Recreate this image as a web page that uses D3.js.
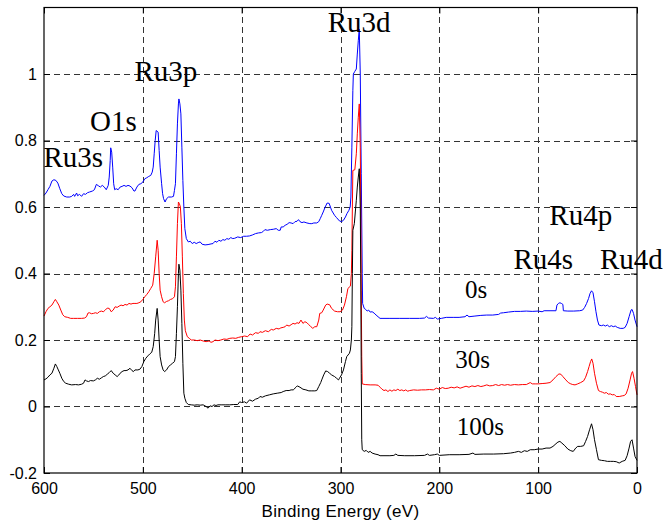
<!DOCTYPE html>
<html>
<head>
<meta charset="utf-8">
<script src="https://cdn.jsdelivr.net/npm/d3@7"></script>
<style>
  html, body { margin: 0; padding: 0; background: #fff; }
  svg { display: block; }
</style>
</head>
<body>
<svg id="chart" width="671" height="527"></svg>
<script>
// XPS survey spectra after 0 s, 30 s and 100 s of sputtering: [binding energy (eV), intensity]
const spectrum0s = [
  [600,0.635],[598,0.642],[596,0.652],[594,0.662],[592,0.678],[590,0.682],[588,0.68],[586,0.672],[584,0.655],[582,0.64],
  [580,0.633],[577,0.63],[574,0.63],[572,0.632],[570,0.638],[569,0.632],[567,0.642],[566,0.634],[564,0.638],[562,0.632],
  [560,0.64],[558,0.638],[556,0.643],[554,0.645],[551,0.648],[549,0.652],[547,0.668],[545,0.664],[543,0.66],[541,0.665],
  [539,0.66],[537,0.652],[535,0.665],[534,0.69],[533,0.74],[532.5,0.778],[531.5,0.765],[530.5,0.72],[529.5,0.67],[528.5,0.652],
  [527,0.655],[525,0.652],[523,0.66],[521,0.662],[519,0.665],[517,0.662],[515,0.665],[513,0.663],[511,0.658],[509,0.648],
  [508,0.648],[506,0.66],[504,0.668],[502,0.67],[500,0.675],[498,0.685],[496,0.688],[494,0.692],[492,0.695],[490.5,0.705],
  [489.5,0.72],[488.5,0.76],[487.5,0.8],[486.5,0.83],[484.5,0.825],[483.5,0.77],[482.5,0.72],[481,0.67],[480,0.64],[479,0.625],
  [477.5,0.615],[476,0.625],[474,0.63],[471,0.63],[469,0.632],[468,0.65],[467,0.67],[466,0.76],[465,0.85],[464,0.91],
  [463.5,0.925],[462.5,0.91],[461.5,0.88],[460.5,0.78],[459.5,0.68],[458.5,0.6],[457.5,0.535],[456,0.505],[454,0.495],[452,0.497],
  [450,0.49],[448,0.494],[446,0.49],[444,0.493],[442,0.495],[440,0.488],[437,0.486],[434,0.487],[431,0.489],[429,0.49],
  [427,0.497],[425,0.494],[423,0.5],[421,0.497],[419,0.502],[417,0.5],[415,0.505],[413,0.503],[411,0.508],[409,0.505],
  [407,0.506],[404,0.51],[401,0.508],[398,0.512],[395,0.512],[392,0.513],[389,0.516],[386,0.52],[383,0.522],[380,0.523],
  [378,0.527],[376.5,0.532],[374,0.53],[371,0.532],[368,0.533],[365,0.535],[363,0.53],[361,0.53],[360,0.54],[358,0.54],
  [356,0.545],[354,0.548],[352,0.553],[350,0.552],[348,0.55],[346,0.556],[344,0.557],[342.5,0.562],[341,0.556],[339,0.553],
  [337,0.555],[334,0.552],[331,0.55],[329,0.55],[327,0.552],[324,0.552],[322,0.556],[320.5,0.565],[319,0.575],[317.5,0.585],
  [315.5,0.6],[313.5,0.612],[311.5,0.611],[309,0.59],[306,0.575],[304,0.568],[301,0.558],[299,0.556],[297,0.56],[295,0.57],
  [293.5,0.58],[291.5,0.59],[290.2,0.6],[289.5,0.63],[288.5,0.78],[287.5,0.95],[287,1.0],[285.5,1.008],[284,1.015],[283,1.06],
  [282,1.1],[281,1.135],[280,1.0],[279,0.7],[278,0.4],[277.6,0.31],[276,0.295],[274.5,0.292],[273,0.287],[271.5,0.29],
  [270,0.284],[268,0.285],[266,0.281],[264,0.275],[262,0.27],[260,0.265],[257,0.265],[250,0.265],[240,0.265],[230,0.265],
  [220,0.265],[215,0.266],[213,0.271],[211,0.266],[206,0.265],[204,0.268],[202,0.263],[198,0.265],[193,0.268],[186,0.268],
  [180,0.268],[174,0.27],[172,0.275],[170,0.27],[164,0.272],[158,0.274],[152,0.275],[146,0.275],[140,0.277],[138,0.281],
  [135,0.282],[130,0.284],[124,0.286],[118,0.286],[112,0.287],[106,0.286],[100,0.287],[96,0.285],[94,0.288],[88,0.288],
  [82,0.288],[81,0.305],[79.5,0.31],[78,0.312],[76.5,0.31],[75,0.307],[74.5,0.288],[70,0.287],[64,0.287],[58,0.288],
  [55,0.29],[53,0.298],[51,0.31],[49,0.325],[47.5,0.34],[46,0.348],[44.5,0.342],[43,0.315],[41.5,0.285],[40,0.26],
  [38.5,0.245],[36,0.243],[34,0.245],[32,0.242],[30,0.245],[28,0.24],[26,0.243],[24,0.24],[22,0.242],[20,0.238],
  [17,0.235],[14,0.235],[12,0.238],[10,0.25],[8,0.27],[6,0.29],[5,0.292],[3.5,0.28],[2,0.26],[0,0.24]
];

const spectrum30s = [
  [600,0.272],[598,0.285],[596,0.295],[594,0.3],[592,0.305],[590,0.315],[588.5,0.322],[587,0.315],[585,0.305],[583,0.29],
  [581,0.276],[579,0.27],[576,0.268],[573,0.265],[570,0.265],[566,0.265],[562,0.265],[559,0.266],[557,0.27],[555.5,0.281],
  [554,0.282],[552,0.279],[550,0.28],[548,0.282],[546,0.28],[544,0.285],[542,0.287],[540,0.285],[538,0.29],[536,0.296],
  [534,0.295],[532,0.285],[530,0.29],[528,0.3],[526,0.298],[524,0.302],[522,0.305],[520,0.303],[518,0.307],[516,0.305],
  [514,0.31],[512,0.308],[510,0.31],[508,0.31],[506,0.31],[504,0.312],[502,0.315],[500,0.322],[498,0.33],[496,0.337],
  [494,0.345],[492,0.355],[490,0.365],[488.5,0.4],[487,0.45],[485.5,0.5],[484.5,0.47],[483.5,0.4],[482.5,0.35],[481,0.33],
  [479.5,0.315],[478,0.312],[476,0.316],[474,0.318],[472,0.322],[470,0.324],[468,0.33],[467,0.36],[466,0.45],[465,0.55],
  [464,0.615],[463,0.61],[462,0.6],[461,0.55],[460,0.45],[459,0.34],[458,0.26],[457,0.228],[455,0.21],[453,0.205],
  [451,0.2],[448,0.2],[445,0.198],[442,0.2],[439,0.197],[436,0.195],[433,0.197],[431,0.193],[429,0.195],[427,0.2],
  [424,0.198],[421,0.2],[418,0.203],[415,0.202],[412,0.205],[409,0.206],[406,0.205],[403,0.208],[400,0.21],[397,0.212],
  [394,0.21],[391.5,0.218],[389,0.215],[386,0.222],[383,0.22],[381.5,0.225],[379,0.223],[376,0.228],[373,0.225],[370,0.232],
  [368,0.23],[365,0.235],[362,0.233],[361,0.236],[358,0.238],[356,0.24],[354.5,0.245],[352,0.242],[350,0.246],[348,0.25],
  [346,0.248],[344,0.252],[342,0.25],[340,0.26],[338,0.25],[336,0.255],[334,0.252],[332,0.246],[330,0.24],[328,0.235],
  [326,0.24],[324,0.24],[322,0.26],[321,0.28],[319,0.282],[317.5,0.29],[315,0.305],[313.5,0.308],[311,0.306],[309,0.295],
  [306,0.287],[303,0.285],[300.5,0.285],[298,0.29],[296,0.305],[294,0.33],[292.5,0.355],[290,0.362],[289,0.4],[288.5,0.47],
  [288,0.6],[287.5,0.71],[285.5,0.712],[284,0.76],[283,0.82],[282,0.87],[281,0.91],[280,0.78],[279.5,0.6],[279,0.35],
  [278.5,0.15],[278,0.068],[275,0.066],[270,0.065],[265,0.065],[262,0.064],[260,0.058],[258,0.052],[256,0.048],[254,0.05],
  [252,0.045],[250,0.05],[248,0.046],[246,0.05],[244,0.048],[242,0.052],[240,0.048],[238,0.05],[236,0.047],[234,0.05],
  [232,0.046],[230,0.048],[226,0.05],[222,0.049],[218,0.05],[214,0.05],[210,0.051],[206,0.05],[203,0.055],[200,0.052],
  [197,0.057],[194,0.054],[191,0.055],[188,0.058],[185,0.056],[182,0.059],[179,0.055],[176,0.058],[173,0.061],[170,0.058],
  [167,0.062],[164,0.06],[161,0.063],[158,0.06],[155,0.062],[152,0.065],[149,0.062],[146,0.063],[143,0.066],[140,0.063],
  [137,0.066],[134,0.064],[131,0.066],[128,0.064],[124,0.066],[120,0.065],[116,0.066],[112,0.066],[108,0.072],[106,0.068],
  [103,0.068],[100,0.068],[96,0.069],[92,0.07],[88,0.072],[85,0.08],[82,0.09],[79,0.098],[77,0.097],[75,0.09],
  [72,0.08],[69.5,0.072],[67,0.068],[65,0.066],[62.7,0.065],[60,0.068],[57,0.072],[54,0.077],[52,0.088],[50,0.105],
  [48.5,0.12],[47,0.135],[45.8,0.143],[44.5,0.13],[43,0.1],[41,0.07],[39,0.048],[37,0.045],[35,0.043],[33,0.04],
  [31,0.042],[29,0.037],[27,0.038],[25,0.035],[23,0.036],[21,0.03],[18,0.03],[15,0.032],[13,0.033],[11,0.038],
  [9,0.055],[7,0.08],[5.5,0.1],[4.5,0.105],[3,0.085],[1.5,0.06],[0,0.035]
];

const spectrum100s = [
  [600,0.08],[598,0.083],[596,0.088],[594,0.095],[592,0.1],[590,0.115],[588.5,0.128],[587,0.12],[585.5,0.11],[584,0.1],
  [582,0.085],[580,0.075],[578,0.07],[575,0.067],[572,0.065],[568,0.066],[565,0.065],[562,0.067],[560,0.07],[558.5,0.08],
  [557,0.077],[555,0.075],[553,0.078],[550,0.077],[548,0.08],[546,0.085],[544,0.082],[542,0.086],[540,0.09],[538,0.092],
  [536,0.097],[534,0.102],[532,0.108],[530,0.1],[528,0.095],[526,0.09],[524.5,0.094],[523,0.1],[521,0.105],[519,0.108],
  [517,0.108],[515,0.11],[513,0.115],[511,0.108],[509.5,0.105],[508,0.11],[505,0.11],[503,0.112],[501,0.12],[499,0.135],
  [497,0.145],[495,0.152],[493,0.158],[491,0.163],[489.5,0.18],[488,0.22],[487,0.26],[485.5,0.295],[484.5,0.26],[483.5,0.2],
  [482.5,0.15],[481,0.125],[479.5,0.11],[478,0.105],[476,0.11],[474,0.12],[472,0.125],[470,0.13],[468,0.135],[467,0.15],
  [466,0.22],[465,0.3],[464,0.4],[463.5,0.428],[462.5,0.41],[461.5,0.35],[460.5,0.25],[459.5,0.13],[458.5,0.04],[457.5,0.025],
  [456,0.012],[454,0.006],[451,0.005],[448,0.004],[445,0.005],[442,0.004],[439,0.005],[436,0.0],[434,-0.005],[432,0.002],
  [430,0.0],[428,0.005],[426,0.003],[424,0.005],[420,0.005],[416,0.005],[412,0.005],[408,0.006],[404,0.006],[402,0.014],
  [400,0.012],[397,0.014],[395,0.01],[392,0.02],[389,0.016],[386,0.022],[383,0.025],[381.5,0.03],[379,0.028],[376,0.032],
  [372,0.035],[368,0.038],[364,0.04],[360,0.042],[358,0.045],[355,0.048],[352,0.048],[350,0.05],[347.8,0.05],[345,0.058],
  [343.7,0.062],[341,0.058],[338,0.052],[335,0.05],[332,0.047],[329,0.047],[326,0.047],[324,0.048],[322,0.06],[320,0.072],
  [319,0.08],[317,0.095],[315,0.107],[313,0.105],[311,0.1],[309,0.095],[306,0.09],[304,0.085],[302,0.08],[301,0.085],
  [299,0.095],[297,0.11],[295,0.135],[293.7,0.15],[291,0.16],[290,0.17],[289,0.2],[288.5,0.24],[288,0.4],[287.5,0.53],
  [286,0.55],[285,0.585],[284,0.62],[283,0.66],[282,0.69],[281,0.715],[280,0.6],[279.5,0.4],[279,0.1],[278.5,-0.1],
  [278,-0.13],[276,-0.135],[274,-0.132],[272,-0.138],[270,-0.135],[268,-0.14],[265,-0.143],[262,-0.145],[260,-0.148],[250,-0.148],
  [246,-0.147],[244,-0.143],[242,-0.147],[235,-0.148],[225,-0.148],[215,-0.147],[212,-0.143],[210,-0.147],[205,-0.145],[202,-0.143],
  [200,-0.147],[190,-0.145],[180,-0.145],[170,-0.144],[166,-0.14],[164,-0.144],[155,-0.143],[145,-0.143],[135,-0.142],[128,-0.14],
  [124,-0.138],[120,-0.135],[117,-0.138],[114,-0.133],[111,-0.135],[108,-0.13],[104,-0.13],[100,-0.128],[96,-0.128],[92,-0.125],
  [88,-0.125],[85,-0.12],[82,-0.112],[80,-0.107],[78,-0.105],[76,-0.11],[73,-0.118],[70,-0.128],[67,-0.133],[64.5,-0.135],
  [62,-0.125],[60,-0.12],[57,-0.12],[54,-0.118],[52,-0.105],[50,-0.09],[48,-0.07],[46,-0.052],[44.5,-0.07],[43,-0.1],
  [41,-0.13],[39,-0.16],[36,-0.162],[33,-0.163],[30,-0.165],[27,-0.165],[24,-0.165],[21,-0.166],[18,-0.17],[15,-0.165],
  [12,-0.162],[10,-0.148],[8,-0.125],[6.5,-0.105],[5,-0.1],[3.5,-0.125],[2,-0.15],[0,-0.162]
];

const seriesNames  = ["0s", "30s", "100s"];
const seriesColors = ["#0000ff", "#ff0000", "#000000"];
const xTicks = [600, 500, 400, 300, 200, 100, 0];
const yTicks = [-0.2, 0, 0.2, 0.4, 0.6, 0.8, 1];
const xDomain = [600, 0];
const yDomain = [-0.2, 1.2];

// Peak labels: [text, energy, intensity] at the text's left baseline
const peakLabels = [
  ["Ru3s", 600.5, 0.72],
  ["O1s", 553.5, 0.828],
  ["Ru3p", 508.5, 0.978],
  ["Ru3d", 313, 1.125],
  ["Ru4p", 88.7, 0.547],
  ["Ru4s", 125, 0.413],
  ["Ru4d", 37.5, 0.413]
];
// Sputter time labels
const timeLabels = [
  ["0s", 174, 0.326],
  ["30s", 184, 0.116],
  ["100s", 182.5, -0.085]
];

const svg = d3.select("#chart");
const margin = { left: 44, right: 34, top: 7.5, bottom: 54 };
const W = 671, H = 527;

svg.append("rect").attr("width", W).attr("height", H).attr("fill", "#fff");

const x = d3.scaleLinear().domain(xDomain).range([margin.left, W - margin.right]);
const y = d3.scaleLinear().domain(yDomain).range([H - margin.bottom, margin.top]);

const x0 = margin.left, x1 = W - margin.right, y0 = H - margin.bottom, y1 = margin.top;

// dashed grid
const grid = svg.append("g").attr("stroke", "#333").attr("stroke-width", 1).attr("stroke-dasharray", "6,4");
grid.selectAll("line.v").data(xTicks.filter(d => d !== 600 && d !== 0)).join("line")
  .attr("class", "v")
  .attr("x1", d => Math.round(x(d)) + 0.5).attr("x2", d => Math.round(x(d)) + 0.5)
  .attr("y1", y0).attr("y2", y1);
grid.selectAll("line.h").data(yTicks.filter(d => d !== -0.2)).join("line")
  .attr("class", "h")
  .attr("y1", d => Math.round(y(d)) + 0.5).attr("y2", d => Math.round(y(d)) + 0.5)
  .attr("x1", x0).attr("x2", x1);

// spectra
const line = d3.line().x(d => x(d[0])).y(d => y(d[1]));
const plot = svg.append("g");
[spectrum0s, spectrum30s, spectrum100s].forEach((s, i) => {
  plot.append("path")
    .datum(s)
    .attr("fill", "none")
    .attr("stroke", seriesColors[i])
    .attr("stroke-width", 1)
    .attr("stroke-linejoin", "round")
    .attr("d", line);
});

// axes with inward ticks on all four sides
const fmt = d => String(d);
const tickFont = "'Liberation Sans', Arial, Helvetica, sans-serif";

const gx = svg.append("g").attr("transform", `translate(0,${y0})`)
  .call(d3.axisBottom(x).tickValues(xTicks).tickSize(-6).tickPadding(10).tickFormat(fmt));
const gxt = svg.append("g").attr("transform", `translate(0,${y1})`)
  .call(d3.axisTop(x).tickValues(xTicks).tickSize(-6).tickFormat(""));
const gy = svg.append("g").attr("transform", `translate(${x0},0)`)
  .call(d3.axisLeft(y).tickValues(yTicks).tickSize(-6).tickPadding(7).tickFormat(fmt));
const gyr = svg.append("g").attr("transform", `translate(${x1},0)`)
  .call(d3.axisRight(y).tickValues(yTicks).tickSize(-6).tickFormat(""));

[gx, gxt, gy, gyr].forEach(g => {
  g.select(".domain").remove();
  g.selectAll(".tick line").attr("stroke", "#000");
  g.selectAll("text").attr("font-family", tickFont).attr("font-size", 16).attr("fill", "#000");
});

// frame
svg.append("rect")
  .attr("x", x0).attr("y", y1).attr("width", x1 - x0).attr("height", y0 - y1)
  .attr("fill", "none").attr("stroke", "#000").attr("stroke-width", 1.2);

// axis title
svg.append("text")
  .attr("x", (x0 + x1) / 2).attr("y", 516.5)
  .attr("text-anchor", "middle")
  .attr("font-family", tickFont).attr("font-size", 17).attr("letter-spacing", 0.3)
  .text("Binding Energy (eV)");

// annotations
const serif = "'Liberation Serif', 'Times New Roman', Times, serif";
svg.append("g").selectAll("text").data(peakLabels).join("text")
  .attr("x", d => x(d[1])).attr("y", d => y(d[2]))
  .attr("font-family", serif).attr("font-size", 29).attr("fill", "#000")
  .text(d => d[0]);
svg.append("g").selectAll("text").data(timeLabels).join("text")
  .attr("x", d => x(d[1])).attr("y", d => y(d[2]))
  .attr("font-family", serif).attr("font-size", 25).attr("fill", "#000")
  .text(d => d[0]);
</script>
</body>
</html>
